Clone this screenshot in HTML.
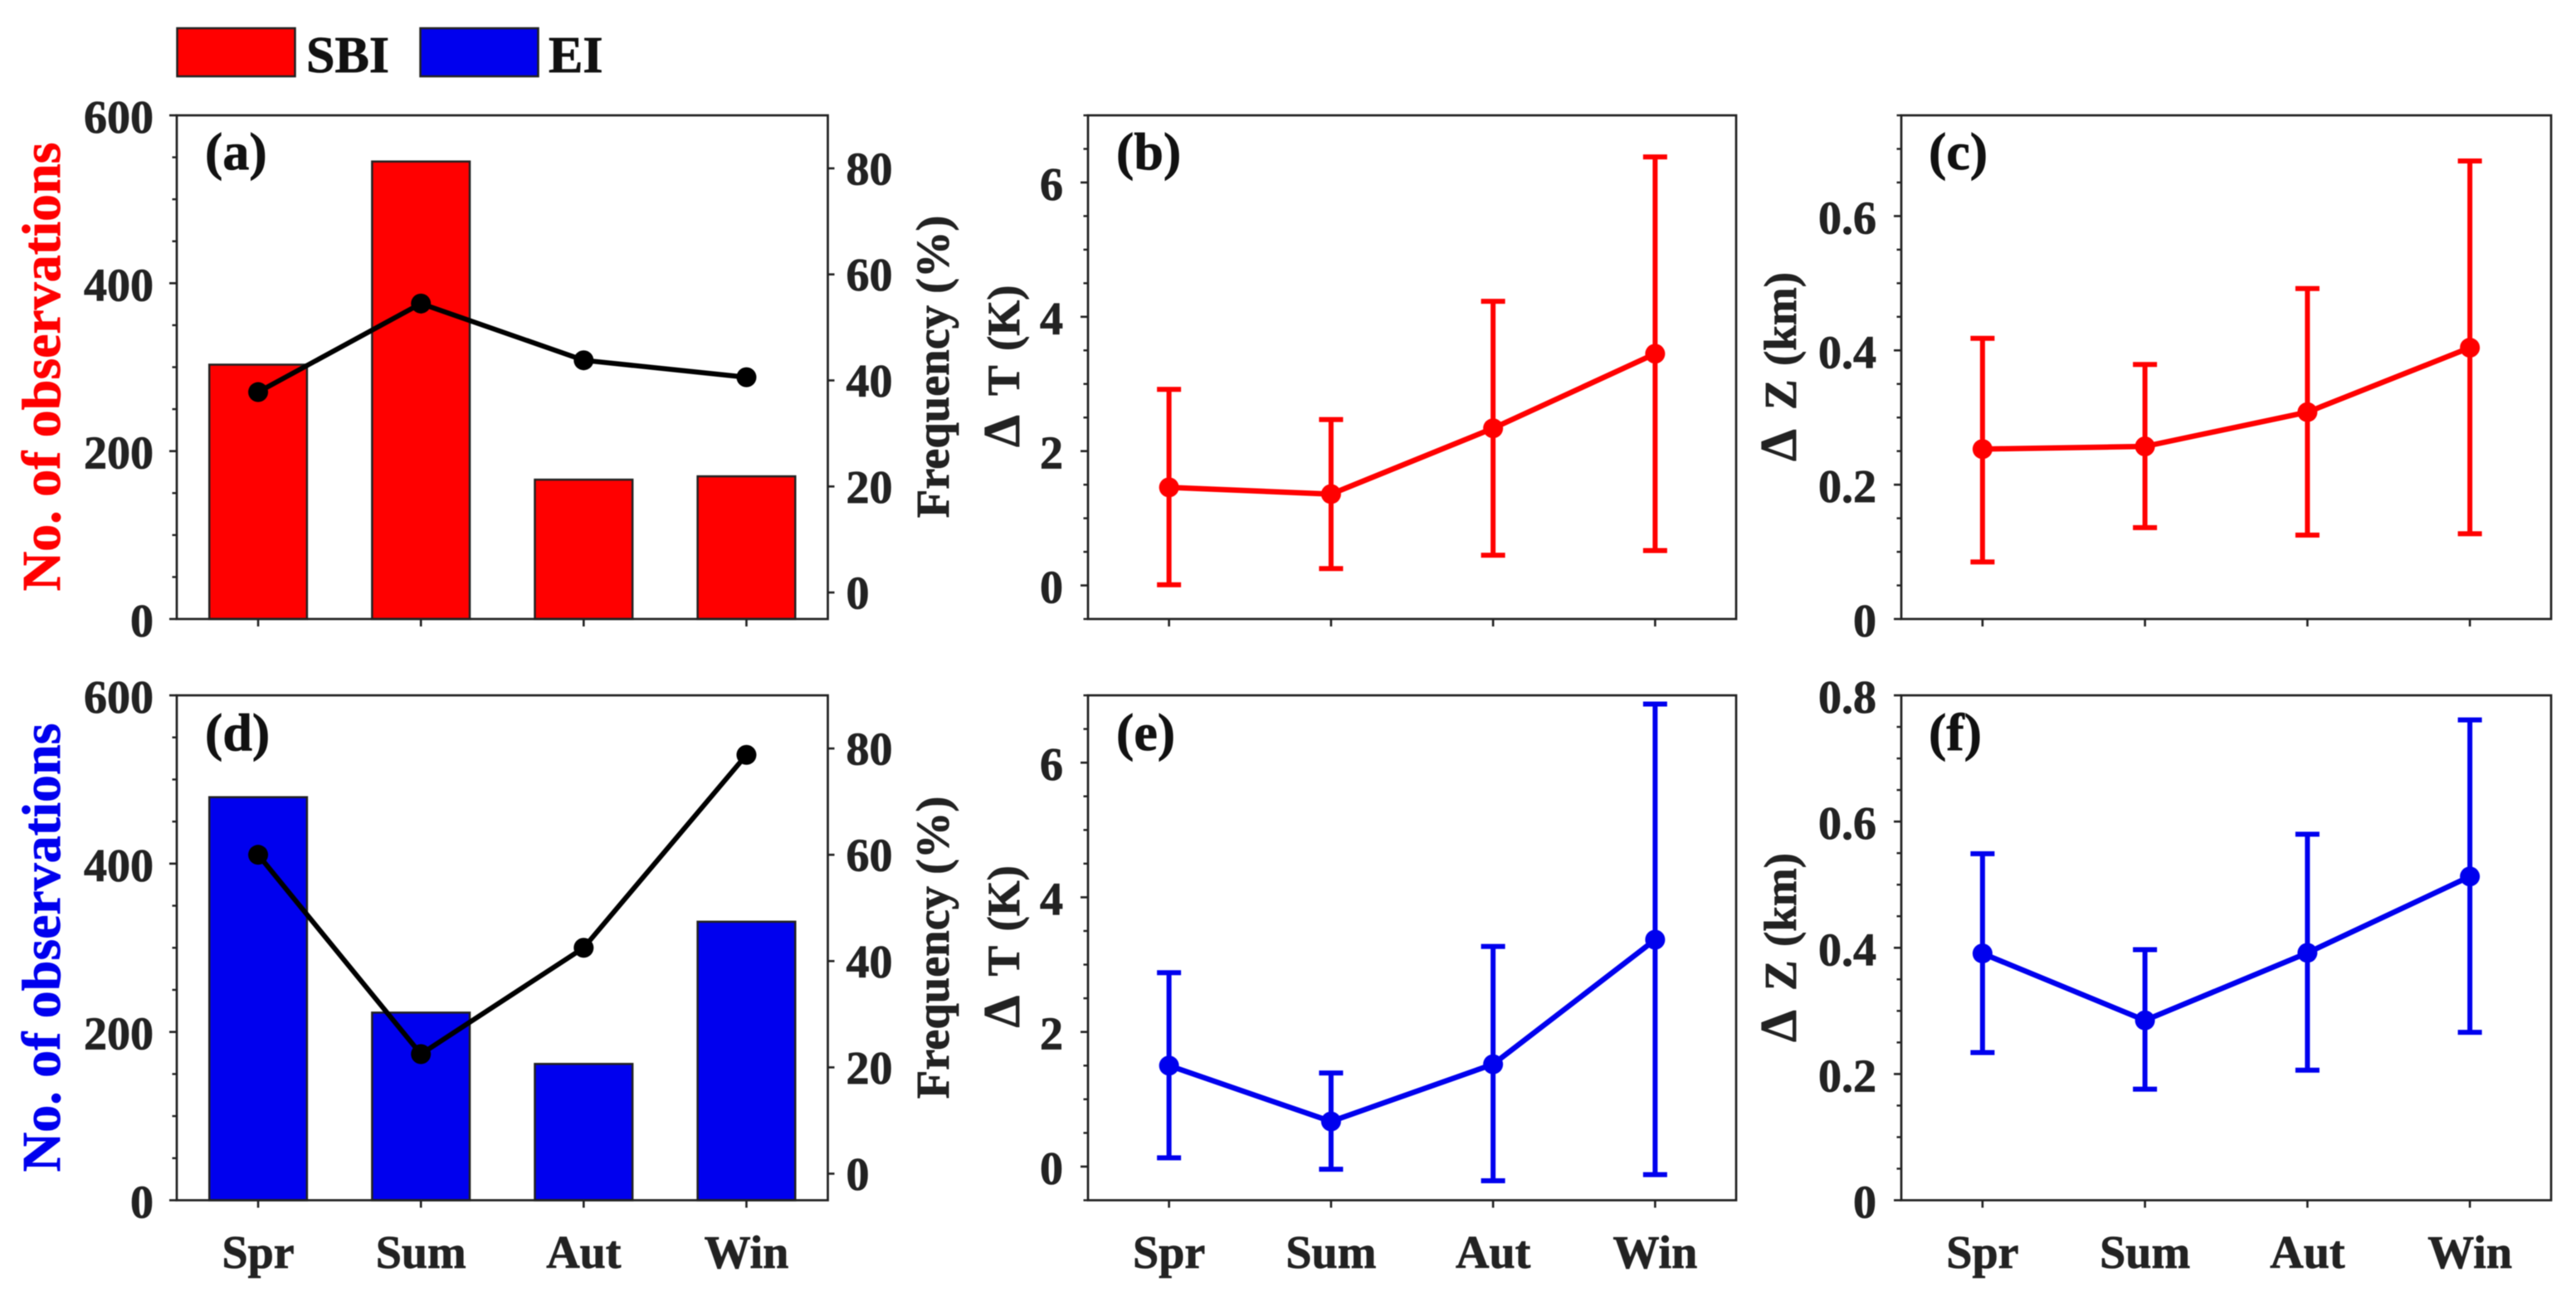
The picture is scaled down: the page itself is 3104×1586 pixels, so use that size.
<!DOCTYPE html>
<html lang="en">
<head>
<meta charset="utf-8">
<title>Seasonal SBI and EI statistics</title>
<style>
html,body{margin:0;padding:0;background:#fff;}
svg{display:block;font-family:"Liberation Serif",serif;font-weight:bold;filter:blur(0.5px);}
</style>
</head>
<body>
<svg id="figure" xmlns="http://www.w3.org/2000/svg" width="3104" height="1586" viewBox="0 0 3104 1586">
  <rect x="0" y="0" width="3104" height="1586" fill="#fff"/>
  <g>
    <rect x="213.5" y="34" width="142" height="58" fill="#ff0000" stroke="#222" stroke-width="2.5"/>
    <text x="369" y="87" font-size="62" fill="#111">SBI</text>
    <rect x="506.5" y="34" width="142" height="58" fill="#0000ee" stroke="#222" stroke-width="2.5"/>
    <text x="661" y="87" font-size="62" fill="#111">EI</text>
  </g>
  <text transform="translate(72,442) rotate(-90)" text-anchor="middle" font-size="66" fill="#ff0000">No. of observations</text>
  <text transform="translate(72,1142) rotate(-90)" text-anchor="middle" font-size="66" fill="#0000ee">No. of observations</text>
  <text transform="translate(1143,442) rotate(-90)" text-anchor="middle" font-size="56.5" fill="#222">Frequency (%)</text>
  <text transform="translate(1143,1142) rotate(-90)" text-anchor="middle" font-size="56.5" fill="#222">Frequency (%)</text>
  <text transform="translate(1228,539) rotate(-90)" font-size="55" fill="#222"><tspan x="0" font-size="62">&#916;</tspan><tspan x="62">T</tspan><tspan x="116">(K)</tspan></text>
  <text transform="translate(1228,1238.5) rotate(-90)" font-size="55" fill="#222"><tspan x="0" font-size="62">&#916;</tspan><tspan x="62">T</tspan><tspan x="116">(K)</tspan></text>
  <text transform="translate(2164,556) rotate(-90)" font-size="55" fill="#222"><tspan x="0" font-size="62">&#916;</tspan><tspan x="62">Z</tspan><tspan x="115">(km)</tspan></text>
  <text transform="translate(2164,1256) rotate(-90)" font-size="55" fill="#222"><tspan x="0" font-size="62">&#916;</tspan><tspan x="62">Z</tspan><tspan x="115">(km)</tspan></text>
  <g id="panels"></g>
  <text x="247" y="204" font-size="64" fill="#111">(a)</text>
  <text x="1345" y="204" font-size="64" fill="#111">(b)</text>
  <text x="2324" y="204" font-size="64" fill="#111">(c)</text>
  <text x="247" y="904" font-size="64" fill="#111">(d)</text>
  <text x="1345" y="904" font-size="64" fill="#111">(e)</text>
  <text x="2324" y="904" font-size="64" fill="#111">(f)</text>
</svg>
<script>
// ---- data ----
const seasons = ['Spr', 'Sum', 'Aut', 'Win'];

const sbiCounts = [303, 545, 166, 170];
const sbiFrequency = [37.8, 54.5, 43.8, 40.6];
const eiCounts = [479, 223, 162, 331];
const eiFrequency = [60.0, 22.5, 42.5, 78.8];

const sbiDeltaTMean = [1.46, 1.36, 2.34, 3.45];
const sbiDeltaTUpper = [2.92, 2.47, 4.23, 6.38];
const sbiDeltaTLower = [0.01, 0.25, 0.45, 0.52];

const sbiDeltaZMean = [0.253, 0.257, 0.308, 0.404];
const sbiDeltaZUpper = [0.418, 0.379, 0.492, 0.682];
const sbiDeltaZLower = [0.085, 0.136, 0.125, 0.127];

const eiDeltaTMean = [1.50, 0.67, 1.52, 3.37];
const eiDeltaTUpper = [2.88, 1.39, 3.27, 6.87];
const eiDeltaTLower = [0.13, -0.04, -0.21, -0.12];

const eiDeltaZMean = [0.391, 0.285, 0.392, 0.513];
const eiDeltaZUpper = [0.549, 0.397, 0.580, 0.761];
const eiDeltaZLower = [0.234, 0.176, 0.206, 0.266];

const countTicks = [0, 200, 400, 600];
const frequencyTicks = [0, 20, 40, 60, 80];
const deltaTTicks = [0, 2, 4, 6];
const deltaZTicksTop = [0, 0.2, 0.4, 0.6];
const deltaZTicksBottom = [0, 0.2, 0.4, 0.6, 0.8];

// ---- drawing ----
const NS = 'http://www.w3.org/2000/svg';
const root = document.getElementById('panels');
const AXIS = '#222';
const RED = '#ff0000';
const BLUE = '#0000ee';

function mk(parent, tag, attrs) {
  const node = document.createElementNS(NS, tag);
  for (const k in attrs) node.setAttribute(k, attrs[k]);
  parent.appendChild(node);
  return node;
}
function linear(d0, d1, r0, r1) {
  return function (v) { return r0 + (v - d0) * (r1 - r0) / (d1 - d0); };
}
function bandX(left, right, n) {
  return linear(0.5, n + 0.5, left, right);
}

function drawAxes(g, box, yScale, yMin, yMax, ticks, minorStep, showXLabels, labelGap) {
  const frame = mk(g, 'rect', {x: box.l, y: box.t, width: box.r - box.l, height: box.b - box.t, fill: 'none', stroke: AXIS, 'stroke-width': 2.7});
  
  
  const n0 = Math.ceil(yMin / minorStep - 1e-9), n1 = Math.floor(yMax / minorStep + 1e-9);
  for (let i = n0; i <= n1; i++) {
    const v = i * minorStep;
    const isMajor = ticks.some(function (t) { return Math.abs(t - v) < 1e-6; });
    if (isMajor) continue;
    const m = mk(g, 'line', {x1: box.l - 5.5, x2: box.l, y1: yScale(v), y2: yScale(v), stroke: AXIS, 'stroke-width': 2.4});
    
    
  }
  ticks.forEach(function (t) {
    const tick = mk(g, 'line', {x1: box.l - 9, x2: box.l, y1: yScale(t), y2: yScale(t), stroke: AXIS, 'stroke-width': 2.6});
    
    
    const lab = mk(g, 'text', {x: box.l - labelGap, y: yScale(t) + 21, 'text-anchor': 'end', 'font-size': 56, fill: AXIS});
    lab.textContent = String(t);
    
    
  });
  const x = bandX(box.l, box.r, seasons.length);
  seasons.forEach(function (s, i) {
    const tick = mk(g, 'line', {x1: x(i + 1), x2: x(i + 1), y1: box.b, y2: box.b + 9, stroke: AXIS, 'stroke-width': 2.6});
    
    
    if (showXLabels) {
      const lab = mk(g, 'text', {x: x(i + 1), y: box.b + 81.5, 'text-anchor': 'middle', 'font-size': 56, fill: AXIS});
      lab.textContent = s;
      
      
    }
  });
  return x;
}

function drawBarPanel(name, box, counts, freq, color, showXLabels) {
  const g = mk(root, 'g', {});
  
  
  const yL = linear(0, 600, box.b, box.t);
  const yR = linear(-5, 90, box.b, box.t);
  const xProbe = bandX(box.l, box.r, seasons.length);
  const barW = 0.6 * (xProbe(2) - xProbe(1));
  counts.forEach(function (c, i) {
    const bar = mk(g, 'rect', {x: xProbe(i + 1) - barW / 2, y: yL(c), width: barW, height: box.b - yL(c), fill: color, stroke: AXIS, 'stroke-width': 2.5});
    
    
  });
  const x = drawAxes(g, box, yL, 0, 600, countTicks, 50, showXLabels, 28);
  frequencyTicks.forEach(function (t) {
    const tick = mk(g, 'line', {x1: box.r, x2: box.r + 8, y1: yR(t), y2: yR(t), stroke: AXIS, 'stroke-width': 2.6});
    
    
    const lab = mk(g, 'text', {x: box.r + 22, y: yR(t) + 19.5, 'font-size': 56, fill: AXIS});
    lab.textContent = String(t);
    
    
  });
  const pts = freq.map(function (f, i) { return x(i + 1) + ',' + yR(f); }).join(' ');
  const line = mk(g, 'polyline', {points: pts, fill: 'none', stroke: '#000', 'stroke-width': 6, 'stroke-linejoin': 'round'});
  
  
  freq.forEach(function (f, i) {
    const dot = mk(g, 'circle', {cx: x(i + 1), cy: yR(f), r: 12, fill: '#000'});
    
    
  });
}

function drawErrorPanel(name, box, yMin, yMax, ticks, minorStep, mean, upper, lower, color, showXLabels) {
  const g = mk(root, 'g', {});
  
  
  const y = linear(yMin, yMax, box.b, box.t);
  const x = drawAxes(g, box, y, yMin, yMax, ticks, minorStep, showXLabels, 30);
  const capHalf = 14.5;
  mean.forEach(function (m, i) {
    const cx = x(i + 1);
    const stem = mk(g, 'line', {x1: cx, x2: cx, y1: y(upper[i]), y2: y(lower[i]), stroke: color, 'stroke-width': 6});
    
    
    const capTop = mk(g, 'line', {x1: cx - capHalf, x2: cx + capHalf, y1: y(upper[i]), y2: y(upper[i]), stroke: color, 'stroke-width': 6});
    
    
    const capBottom = mk(g, 'line', {x1: cx - capHalf, x2: cx + capHalf, y1: y(lower[i]), y2: y(lower[i]), stroke: color, 'stroke-width': 6});
    
    
  });
  const pts = mean.map(function (m, i) { return x(i + 1) + ',' + y(m); }).join(' ');
  const line = mk(g, 'polyline', {points: pts, fill: 'none', stroke: color, 'stroke-width': 6.5, 'stroke-linejoin': 'round'});
  
  
  mean.forEach(function (m, i) {
    const dot = mk(g, 'circle', {cx: x(i + 1), cy: y(m), r: 12, fill: color});
    
    
  });
}

const topRow = {t: 139, b: 746};
const bottomRow = {t: 838, b: 1446.5};
const col1 = {l: 213, r: 997.5};
const col2 = {l: 1311, r: 2092};
const col3 = {l: 2291, r: 3074};
function box(c, r) { return {l: c.l, r: c.r, t: r.t, b: r.b}; }

drawBarPanel('panel-a-sbi-observations', box(col1, topRow), sbiCounts, sbiFrequency, RED, false);
drawErrorPanel('panel-b-sbi-delta-t', box(col2, topRow), -0.5, 7, deltaTTicks, 0.5, sbiDeltaTMean, sbiDeltaTUpper, sbiDeltaTLower, RED, false);
drawErrorPanel('panel-c-sbi-delta-z', box(col3, topRow), 0, 0.75, deltaZTicksTop, 0.05, sbiDeltaZMean, sbiDeltaZUpper, sbiDeltaZLower, RED, false);
drawBarPanel('panel-d-ei-observations', box(col1, bottomRow), eiCounts, eiFrequency, BLUE, true);
drawErrorPanel('panel-e-ei-delta-t', box(col2, bottomRow), -0.5, 7, deltaTTicks, 0.5, eiDeltaTMean, eiDeltaTUpper, eiDeltaTLower, BLUE, true);
drawErrorPanel('panel-f-ei-delta-z', box(col3, bottomRow), 0, 0.8, deltaZTicksBottom, 0.05, eiDeltaZMean, eiDeltaZUpper, eiDeltaZLower, BLUE, true);

// slightly heavier glyphs, as in the reference
document.querySelectorAll('svg text').forEach(function (t) {
  t.setAttribute('stroke', t.getAttribute('fill'));
  t.setAttribute('stroke-width', '0.8');
});
</script>
</body>
</html>
